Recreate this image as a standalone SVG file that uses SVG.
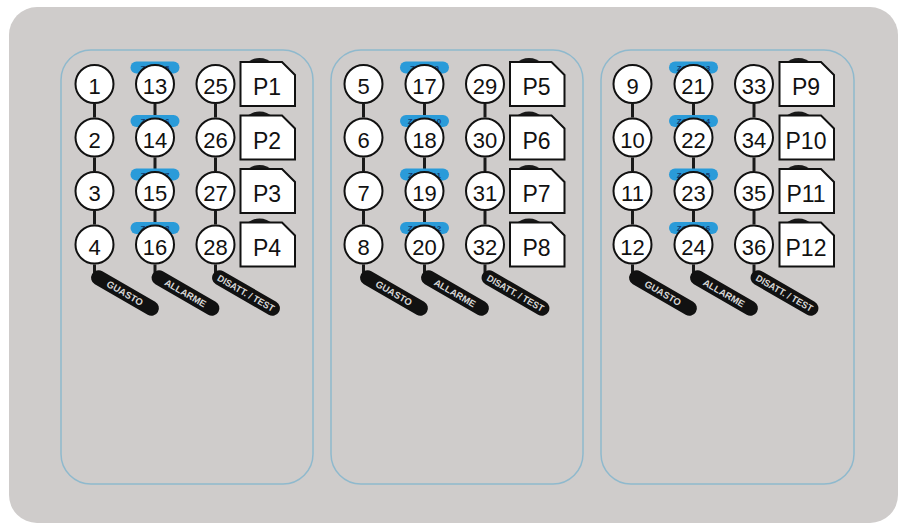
<svg xmlns="http://www.w3.org/2000/svg" width="898" height="525" viewBox="0 0 898 525">
<style>
.bg{fill:#cfcccb}
.panel{fill:none;stroke:#8fb9cd;stroke-width:1.5}
.n circle{fill:#fff;stroke:#111;stroke-width:2}
.num{font-family:"Liberation Sans",Arial,sans-serif;font-size:22px;fill:#111;text-anchor:middle}
.pt{font-family:"Liberation Sans",Arial,sans-serif;font-size:23px;fill:#111;text-anchor:middle}
.box{fill:#fff;stroke:#111;stroke-width:2}
.blob{fill:#1a1a1a}
.zr{fill:#2a9bd9}
.zt{font-family:"Liberation Sans",Arial,sans-serif;font-size:8px;font-weight:bold;fill:#143c72;text-anchor:middle}
.conn line{stroke:#1a1a1a;stroke-width:3}
.pill rect{fill:#111}
.pill text{font-family:"Liberation Sans",Arial,sans-serif;font-size:9.5px;font-weight:bold;fill:#d6d6d6;text-anchor:middle}
</style>
<rect class="bg" x="9" y="7" width="889" height="516" rx="28"/>
<g id="panels">
<rect class="panel" x="61" y="50" width="252" height="434" rx="30"/>
<rect class="panel" x="331" y="50" width="252" height="434" rx="30"/>
<rect class="panel" x="601" y="50" width="253" height="434" rx="30"/>
</g>
<g id="connectors" class="conn">
<line x1="94.5" y1="104" x2="94.5" y2="117.5"/><line x1="94.5" y1="157.5" x2="94.5" y2="171"/><line x1="94.5" y1="211" x2="94.5" y2="224.5"/><line x1="94.5" y1="264.5" x2="94.5" y2="282"/>
<line x1="155" y1="104" x2="155" y2="117.5"/><line x1="155" y1="157.5" x2="155" y2="171"/><line x1="155" y1="211" x2="155" y2="224.5"/><line x1="155" y1="264.5" x2="155" y2="282"/>
<line x1="215.5" y1="104" x2="215.5" y2="117.5"/><line x1="215.5" y1="157.5" x2="215.5" y2="171"/><line x1="215.5" y1="211" x2="215.5" y2="224.5"/><line x1="215.5" y1="264.5" x2="215.5" y2="282"/>
<line x1="363.5" y1="104" x2="363.5" y2="117.5"/><line x1="363.5" y1="157.5" x2="363.5" y2="171"/><line x1="363.5" y1="211" x2="363.5" y2="224.5"/><line x1="363.5" y1="264.5" x2="363.5" y2="282"/>
<line x1="424.5" y1="104" x2="424.5" y2="117.5"/><line x1="424.5" y1="157.5" x2="424.5" y2="171"/><line x1="424.5" y1="211" x2="424.5" y2="224.5"/><line x1="424.5" y1="264.5" x2="424.5" y2="282"/>
<line x1="485" y1="104" x2="485" y2="117.5"/><line x1="485" y1="157.5" x2="485" y2="171"/><line x1="485" y1="211" x2="485" y2="224.5"/><line x1="485" y1="264.5" x2="485" y2="282"/>
<line x1="632.5" y1="104" x2="632.5" y2="117.5"/><line x1="632.5" y1="157.5" x2="632.5" y2="171"/><line x1="632.5" y1="211" x2="632.5" y2="224.5"/><line x1="632.5" y1="264.5" x2="632.5" y2="282"/>
<line x1="693.5" y1="104" x2="693.5" y2="117.5"/><line x1="693.5" y1="157.5" x2="693.5" y2="171"/><line x1="693.5" y1="211" x2="693.5" y2="224.5"/><line x1="693.5" y1="264.5" x2="693.5" y2="282"/>
<line x1="754" y1="104" x2="754" y2="117.5"/><line x1="754" y1="157.5" x2="754" y2="171"/><line x1="754" y1="211" x2="754" y2="224.5"/><line x1="754" y1="264.5" x2="754" y2="282"/>
</g>
<g id="pills" class="pill">
<g id="guasto-1" transform="translate(125,293) rotate(30)"><rect x="-38" y="-7.5" width="76" height="15" rx="7.5"/><text y="3.5">GUASTO</text></g>
<g id="allarme-1" transform="translate(185.5,293) rotate(30)"><rect x="-38" y="-7.5" width="76" height="15" rx="7.5"/><text y="3.5">ALLARME</text></g>
<g id="test-1" transform="translate(246,293) rotate(30)"><rect x="-38" y="-7.5" width="76" height="15" rx="7.5"/><text y="3.5" textLength="64" lengthAdjust="spacingAndGlyphs">DISATT. / TEST</text></g>
<g id="guasto-2" transform="translate(394,293) rotate(30)"><rect x="-38" y="-7.5" width="76" height="15" rx="7.5"/><text y="3.5">GUASTO</text></g>
<g id="allarme-2" transform="translate(455,293) rotate(30)"><rect x="-38" y="-7.5" width="76" height="15" rx="7.5"/><text y="3.5">ALLARME</text></g>
<g id="test-2" transform="translate(515.5,293) rotate(30)"><rect x="-38" y="-7.5" width="76" height="15" rx="7.5"/><text y="3.5" textLength="64" lengthAdjust="spacingAndGlyphs">DISATT. / TEST</text></g>
<g id="guasto-3" transform="translate(663,293) rotate(30)"><rect x="-38" y="-7.5" width="76" height="15" rx="7.5"/><text y="3.5">GUASTO</text></g>
<g id="allarme-3" transform="translate(724,293) rotate(30)"><rect x="-38" y="-7.5" width="76" height="15" rx="7.5"/><text y="3.5">ALLARME</text></g>
<g id="test-3" transform="translate(784.5,293) rotate(30)"><rect x="-38" y="-7.5" width="76" height="15" rx="7.5"/><text y="3.5" textLength="64" lengthAdjust="spacingAndGlyphs">DISATT. / TEST</text></g>
</g>
<g id="nodes">
<g id="n1" class="n"><circle cx="94.5" cy="84" r="19"/><text class="num" x="94.5" y="94">1</text></g>
<g id="n2" class="n"><circle cx="94.5" cy="137.5" r="19"/><text class="num" x="94.5" y="147.5">2</text></g>
<g id="n3" class="n"><circle cx="94.5" cy="191" r="19"/><text class="num" x="94.5" y="201">3</text></g>
<g id="n4" class="n"><circle cx="94.5" cy="244.5" r="19"/><text class="num" x="94.5" y="254.5">4</text></g>
<g id="n13" class="n"><rect class="zr" x="130.5" y="61.5" width="49" height="12" rx="6"/><text class="zt" x="155" y="70.5">ZONA 5</text><circle cx="155" cy="84" r="19"/><text class="num" x="155" y="94">13</text></g>
<g id="n14" class="n"><rect class="zr" x="130.5" y="115" width="49" height="12" rx="6"/><text class="zt" x="155" y="124">ZONA 6</text><circle cx="155" cy="137.5" r="19"/><text class="num" x="155" y="147.5">14</text></g>
<g id="n15" class="n"><rect class="zr" x="130.5" y="168.5" width="49" height="12" rx="6"/><text class="zt" x="155" y="177.5">ZONA 7</text><circle cx="155" cy="191" r="19"/><text class="num" x="155" y="201">15</text></g>
<g id="n16" class="n"><rect class="zr" x="130.5" y="222" width="49" height="12" rx="6"/><text class="zt" x="155" y="231">ZONA 8</text><circle cx="155" cy="244.5" r="19"/><text class="num" x="155" y="254.5">16</text></g>
<g id="n25" class="n"><circle cx="215.5" cy="84" r="19"/><text class="num" x="215.5" y="94">25</text></g>
<g id="n26" class="n"><circle cx="215.5" cy="137.5" r="19"/><text class="num" x="215.5" y="147.5">26</text></g>
<g id="n27" class="n"><circle cx="215.5" cy="191" r="19"/><text class="num" x="215.5" y="201">27</text></g>
<g id="n28" class="n"><circle cx="215.5" cy="244.5" r="19"/><text class="num" x="215.5" y="254.5">28</text></g>
<g id="p1"><circle class="blob" cx="259.5" cy="77" r="19"/><path class="box" d="M240.5 62H282L295 75V106H240.5Z"/><text class="pt" x="267" y="95">P1</text></g>
<g id="p2"><circle class="blob" cx="259.5" cy="130.5" r="19"/><path class="box" d="M240.5 115.5H282L295 128.5V159.5H240.5Z"/><text class="pt" x="267" y="148.5">P2</text></g>
<g id="p3"><circle class="blob" cx="259.5" cy="184" r="19"/><path class="box" d="M240.5 169H282L295 182V213H240.5Z"/><text class="pt" x="267" y="202">P3</text></g>
<g id="p4"><circle class="blob" cx="259.5" cy="237.5" r="19"/><path class="box" d="M240.5 222.5H282L295 235.5V266.5H240.5Z"/><text class="pt" x="267" y="255.5">P4</text></g>
<g id="n5" class="n"><circle cx="363.5" cy="84" r="19"/><text class="num" x="363.5" y="94">5</text></g>
<g id="n6" class="n"><circle cx="363.5" cy="137.5" r="19"/><text class="num" x="363.5" y="147.5">6</text></g>
<g id="n7" class="n"><circle cx="363.5" cy="191" r="19"/><text class="num" x="363.5" y="201">7</text></g>
<g id="n8" class="n"><circle cx="363.5" cy="244.5" r="19"/><text class="num" x="363.5" y="254.5">8</text></g>
<g id="n17" class="n"><rect class="zr" x="400" y="61.5" width="49" height="12" rx="6"/><text class="zt" x="424.5" y="70.5">ZONA 9</text><circle cx="424.5" cy="84" r="19"/><text class="num" x="424.5" y="94">17</text></g>
<g id="n18" class="n"><rect class="zr" x="400" y="115" width="49" height="12" rx="6"/><text class="zt" x="424.5" y="124">ZONA 10</text><circle cx="424.5" cy="137.5" r="19"/><text class="num" x="424.5" y="147.5">18</text></g>
<g id="n19" class="n"><rect class="zr" x="400" y="168.5" width="49" height="12" rx="6"/><text class="zt" x="424.5" y="177.5">ZONA 11</text><circle cx="424.5" cy="191" r="19"/><text class="num" x="424.5" y="201">19</text></g>
<g id="n20" class="n"><rect class="zr" x="400" y="222" width="49" height="12" rx="6"/><text class="zt" x="424.5" y="231">ZONA 12</text><circle cx="424.5" cy="244.5" r="19"/><text class="num" x="424.5" y="254.5">20</text></g>
<g id="n29" class="n"><circle cx="485" cy="84" r="19"/><text class="num" x="485" y="94">29</text></g>
<g id="n30" class="n"><circle cx="485" cy="137.5" r="19"/><text class="num" x="485" y="147.5">30</text></g>
<g id="n31" class="n"><circle cx="485" cy="191" r="19"/><text class="num" x="485" y="201">31</text></g>
<g id="n32" class="n"><circle cx="485" cy="244.5" r="19"/><text class="num" x="485" y="254.5">32</text></g>
<g id="p5"><circle class="blob" cx="529" cy="77" r="19"/><path class="box" d="M510 62H551.5L564.5 75V106H510Z"/><text class="pt" x="536.5" y="95">P5</text></g>
<g id="p6"><circle class="blob" cx="529" cy="130.5" r="19"/><path class="box" d="M510 115.5H551.5L564.5 128.5V159.5H510Z"/><text class="pt" x="536.5" y="148.5">P6</text></g>
<g id="p7"><circle class="blob" cx="529" cy="184" r="19"/><path class="box" d="M510 169H551.5L564.5 182V213H510Z"/><text class="pt" x="536.5" y="202">P7</text></g>
<g id="p8"><circle class="blob" cx="529" cy="237.5" r="19"/><path class="box" d="M510 222.5H551.5L564.5 235.5V266.5H510Z"/><text class="pt" x="536.5" y="255.5">P8</text></g>
<g id="n9" class="n"><circle cx="632.5" cy="84" r="19"/><text class="num" x="632.5" y="94">9</text></g>
<g id="n10" class="n"><circle cx="632.5" cy="137.5" r="19"/><text class="num" x="632.5" y="147.5">10</text></g>
<g id="n11" class="n"><circle cx="632.5" cy="191" r="19"/><text class="num" x="632.5" y="201">11</text></g>
<g id="n12" class="n"><circle cx="632.5" cy="244.5" r="19"/><text class="num" x="632.5" y="254.5">12</text></g>
<g id="n21" class="n"><rect class="zr" x="669" y="61.5" width="49" height="12" rx="6"/><text class="zt" x="693.5" y="70.5">ZONA 13</text><circle cx="693.5" cy="84" r="19"/><text class="num" x="693.5" y="94">21</text></g>
<g id="n22" class="n"><rect class="zr" x="669" y="115" width="49" height="12" rx="6"/><text class="zt" x="693.5" y="124">ZONA 14</text><circle cx="693.5" cy="137.5" r="19"/><text class="num" x="693.5" y="147.5">22</text></g>
<g id="n23" class="n"><rect class="zr" x="669" y="168.5" width="49" height="12" rx="6"/><text class="zt" x="693.5" y="177.5">ZONA 15</text><circle cx="693.5" cy="191" r="19"/><text class="num" x="693.5" y="201">23</text></g>
<g id="n24" class="n"><rect class="zr" x="669" y="222" width="49" height="12" rx="6"/><text class="zt" x="693.5" y="231">ZONA 16</text><circle cx="693.5" cy="244.5" r="19"/><text class="num" x="693.5" y="254.5">24</text></g>
<g id="n33" class="n"><circle cx="754" cy="84" r="19"/><text class="num" x="754" y="94">33</text></g>
<g id="n34" class="n"><circle cx="754" cy="137.5" r="19"/><text class="num" x="754" y="147.5">34</text></g>
<g id="n35" class="n"><circle cx="754" cy="191" r="19"/><text class="num" x="754" y="201">35</text></g>
<g id="n36" class="n"><circle cx="754" cy="244.5" r="19"/><text class="num" x="754" y="254.5">36</text></g>
<g id="p9"><circle class="blob" cx="798.5" cy="77" r="19"/><path class="box" d="M779.5 62H821L834 75V106H779.5Z"/><text class="pt" x="806" y="95">P9</text></g>
<g id="p10"><circle class="blob" cx="798.5" cy="130.5" r="19"/><path class="box" d="M779.5 115.5H821L834 128.5V159.5H779.5Z"/><text class="pt" x="806" y="148.5">P10</text></g>
<g id="p11"><circle class="blob" cx="798.5" cy="184" r="19"/><path class="box" d="M779.5 169H821L834 182V213H779.5Z"/><text class="pt" x="806" y="202">P11</text></g>
<g id="p12"><circle class="blob" cx="798.5" cy="237.5" r="19"/><path class="box" d="M779.5 222.5H821L834 235.5V266.5H779.5Z"/><text class="pt" x="806" y="255.5">P12</text></g>
</g>
</svg>
